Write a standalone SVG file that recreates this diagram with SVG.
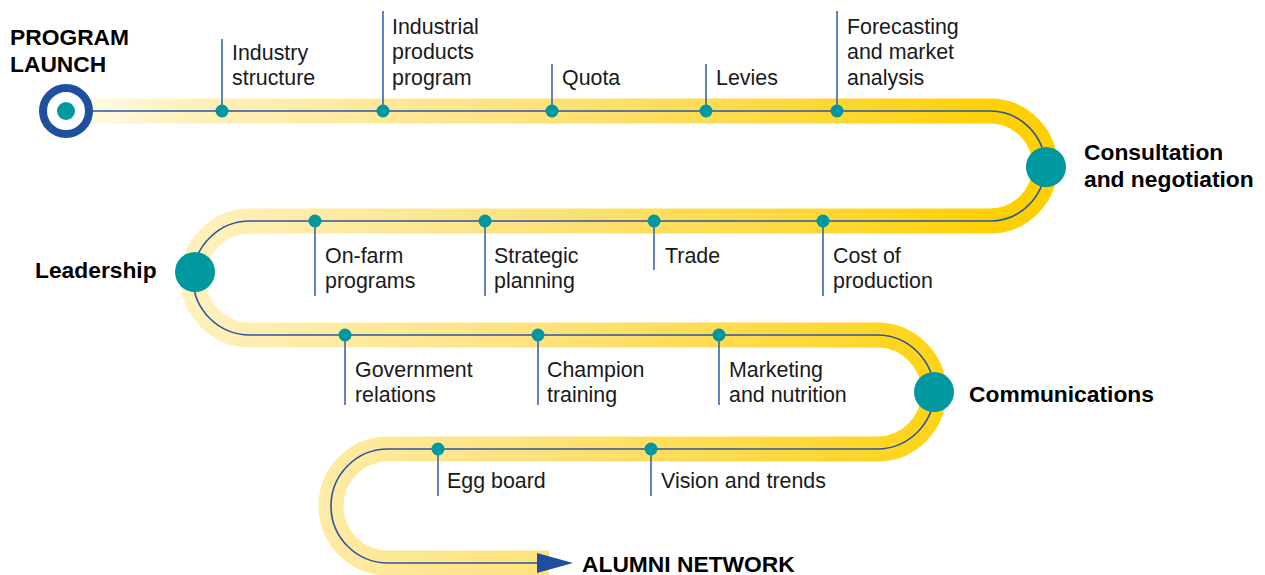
<svg xmlns="http://www.w3.org/2000/svg" width="1265" height="575" viewBox="0 0 1265 575">
  <defs>
    <linearGradient id="bandGrad" gradientUnits="userSpaceOnUse" x1="70" y1="0" x2="1010" y2="0">
      <stop offset="0" stop-color="#FFFCEB"/>
      <stop offset="0.12" stop-color="#FEF1BE"/>
      <stop offset="0.5" stop-color="#FEE27C"/>
      <stop offset="0.8" stop-color="#FFD837"/>
      <stop offset="1" stop-color="#FFD000"/>
    </linearGradient>
    <marker id="arrow" viewBox="0 0 36 20" refX="0" refY="10" markerWidth="36" markerHeight="20" markerUnits="userSpaceOnUse" orient="auto">
      <path d="M0,0 L36,10 L0,20 Z" fill="#1F4E9E"/>
    </marker>
  </defs>
  <style>
    .band { fill: none; stroke: url(#bandGrad); stroke-width: 25; }
    .route { fill: none; stroke: #2B55A3; stroke-width: 1.6; }
    .tick { stroke: #3A66B0; stroke-width: 1.6; }
    .dot { fill: #00989F; }
    .hub { fill: #00989F; }
    .lbl { font-family: "Liberation Sans", Arial, sans-serif; font-size: 21.4px; fill: #1A1A1A; }
    .ttl { font-family: "Liberation Sans", Arial, sans-serif; font-size: 22.8px; font-weight: bold; fill: #000; }
  </style>

  <g id="connectors">
    <path class="band" d="M 66 111 H 990 A 55 55 0 0 1 990 221 H 250 A 57 57 0 0 0 250 335 H 877 A 57 57 0 0 1 877 449 H 388 A 57 57 0 0 0 388 563 H 549"/>
    <path class="route" d="M 92 111 H 990 A 55 55 0 0 1 990 221 H 250 A 57 57 0 0 0 250 335 H 877 A 57 57 0 0 1 877 449 H 388 A 57 57 0 0 0 388 563 H 537" marker-end="url(#arrow)"/>
  </g>

  <g id="program-launch">
    <circle cx="66" cy="111" r="23" fill="#FFFFFF" stroke="#1F4F9F" stroke-width="8"/>
    <circle cx="66" cy="111" r="9" fill="#00989F"/>
    <text class="ttl" x="10" y="45">PROGRAM</text>
    <text class="ttl" x="10" y="72">LAUNCH</text>
  </g>

  <g id="industry-structure">
    <line class="tick" x1="222" y1="39" x2="222" y2="111"/>
    <circle class="dot" cx="222" cy="111" r="6.5"/>
    <text class="lbl" x="232" y="60">Industry</text>
    <text class="lbl" x="232" y="85">structure</text>
  </g>
  <g id="industrial-products">
    <line class="tick" x1="383" y1="11" x2="383" y2="111"/>
    <circle class="dot" cx="383" cy="111" r="6.5"/>
    <text class="lbl" x="392" y="34">Industrial</text>
    <text class="lbl" x="392" y="59">products</text>
    <text class="lbl" x="392" y="85">program</text>
  </g>
  <g id="quota">
    <line class="tick" x1="552" y1="64" x2="552" y2="111"/>
    <circle class="dot" cx="552" cy="111" r="6.5"/>
    <text class="lbl" x="562" y="85">Quota</text>
  </g>
  <g id="levies">
    <line class="tick" x1="706" y1="64" x2="706" y2="111"/>
    <circle class="dot" cx="706" cy="111" r="6.5"/>
    <text class="lbl" x="716" y="85">Levies</text>
  </g>
  <g id="forecasting">
    <line class="tick" x1="837" y1="11" x2="837" y2="111"/>
    <circle class="dot" cx="837" cy="111" r="6.5"/>
    <text class="lbl" x="847" y="34">Forecasting</text>
    <text class="lbl" x="847" y="59">and market</text>
    <text class="lbl" x="847" y="85">analysis</text>
  </g>

  <g id="consultation">
    <circle class="hub" cx="1046" cy="167" r="20"/>
    <text class="ttl" x="1084" y="160">Consultation</text>
    <text class="ttl" x="1084" y="187">and negotiation</text>
  </g>

  <g id="on-farm">
    <line class="tick" x1="315" y1="221" x2="315" y2="296"/>
    <circle class="dot" cx="315" cy="221" r="6.5"/>
    <text class="lbl" x="325" y="263">On-farm</text>
    <text class="lbl" x="325" y="288">programs</text>
  </g>
  <g id="strategic-planning">
    <line class="tick" x1="485" y1="221" x2="485" y2="296"/>
    <circle class="dot" cx="485" cy="221" r="6.5"/>
    <text class="lbl" x="494" y="263">Strategic</text>
    <text class="lbl" x="494" y="288">planning</text>
  </g>
  <g id="trade">
    <line class="tick" x1="654" y1="221" x2="654" y2="270"/>
    <circle class="dot" cx="654" cy="221" r="6.5"/>
    <text class="lbl" x="665" y="263">Trade</text>
  </g>
  <g id="cost-of-production">
    <line class="tick" x1="823" y1="221" x2="823" y2="296"/>
    <circle class="dot" cx="823" cy="221" r="6.5"/>
    <text class="lbl" x="833" y="263">Cost of</text>
    <text class="lbl" x="833" y="288">production</text>
  </g>

  <g id="leadership">
    <circle class="hub" cx="195" cy="272" r="20"/>
    <text class="ttl" x="35" y="278">Leadership</text>
  </g>

  <g id="government-relations">
    <line class="tick" x1="345" y1="335" x2="345" y2="405"/>
    <circle class="dot" cx="345" cy="335" r="6.5"/>
    <text class="lbl" x="355" y="377">Government</text>
    <text class="lbl" x="355" y="402">relations</text>
  </g>
  <g id="champion-training">
    <line class="tick" x1="538" y1="335" x2="538" y2="405"/>
    <circle class="dot" cx="538" cy="335" r="6.5"/>
    <text class="lbl" x="547" y="377">Champion</text>
    <text class="lbl" x="547" y="402">training</text>
  </g>
  <g id="marketing-nutrition">
    <line class="tick" x1="719" y1="335" x2="719" y2="405"/>
    <circle class="dot" cx="719" cy="335" r="6.5"/>
    <text class="lbl" x="729" y="377">Marketing</text>
    <text class="lbl" x="729" y="402">and nutrition</text>
  </g>

  <g id="communications">
    <circle class="hub" cx="934" cy="392" r="20"/>
    <text class="ttl" x="969" y="402">Communications</text>
  </g>

  <g id="egg-board">
    <line class="tick" x1="438" y1="449" x2="438" y2="496"/>
    <circle class="dot" cx="438" cy="449" r="6.5"/>
    <text class="lbl" x="447" y="488">Egg board</text>
  </g>
  <g id="vision-trends">
    <line class="tick" x1="651" y1="449" x2="651" y2="496"/>
    <circle class="dot" cx="651" cy="449" r="6.5"/>
    <text class="lbl" x="661" y="488">Vision and trends</text>
  </g>

  <g id="alumni-network">
    <text class="ttl" x="582" y="572">ALUMNI NETWORK</text>
  </g>
</svg>
